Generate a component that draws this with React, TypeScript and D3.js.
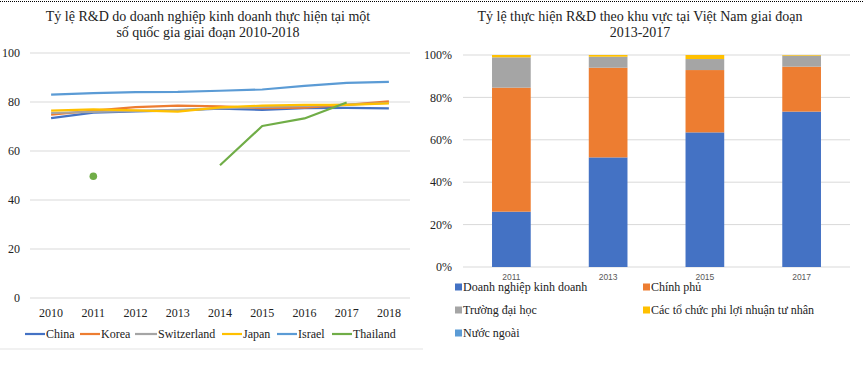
import React from "react";
import * as d3 from "d3";

const years = ["2010", "2011", "2012", "2013", "2014", "2015", "2016", "2017", "2018"];
const countries = ["China", "Korea", "Switzerland", "Japan", "Israel", "Thailand"];
const china = [73.4, 75.7, 76.2, 76.6, 77.3, 76.8, 77.5, 77.6, 77.4];
const korea = [74.8, 76.5, 77.9, 78.5, 78.2, 77.5, 77.7, 78.8, 80.3];
const switzerland = [75.5, 76.0, 76.4, 76.8, 77.4, 78.0, 78.4, 78.9, 79.6];
const japan = [76.5, 77.0, 76.6, 76.1, 77.8, 78.5, 78.8, 78.8, 79.4];
const israel = [83.0, 83.6, 84.0, 84.1, 84.6, 85.1, 86.6, 87.8, 88.2];
const thailand: (number | null)[] = [null, 49.7, null, null, 54.2, 70.2, 73.3, 79.8, null];
const leftTicks = [0, 20, 40, 60, 80, 100];

const vnYears = ["2011", "2013", "2015", "2017"];
const sectors = ["Doanh nghiệp kinh doanh", "Chính phủ", "Trường đại học", "Các tổ chức phi lợi nhuận tư nhân", "Nước ngoài"];
const business = [26.1, 51.7, 63.5, 73.3];
const government = [58.5, 42.3, 29.4, 21.2];
const university = [14.3, 5.2, 5.2, 5.2];
const nonprofit = [1.1, 0.8, 1.9, 0.3];
const foreign = [0, 0, 0, 0];
const rightTicks = [0, 0.2, 0.4, 0.6, 0.8, 1];

const lineColors = ["#4472C4", "#ED7D31", "#A5A5A5", "#FFC000", "#5B9BD5", "#70AD47"];
const barColors = ["#4472C4", "#ED7D31", "#A5A5A5", "#FFC000", "#5B9BD5"];
const serif = "Liberation Serif, DejaVu Serif, serif";
const sans = "Liberation Sans, Arial, sans-serif";

const S = (size: number, fam: string = serif) => ({ fontFamily: fam, fontSize: size + "px" });

export default function App() {
  const xL = d3.scaleBand<string>().domain(years).range([30, 410]);
  const yL = d3.scaleLinear().domain([0, 100]).range([298, 53]);
  const seriesL: (number | null)[][] = [china, korea, switzerland, japan, israel, thailand];
  const line = d3
    .line<number | null>()
    .defined((d) => d !== null)
    .x((_, i) => (xL(years[i]) as number) + xL.bandwidth() / 2)
    .y((d) => yL(d as number));

  const legendL = [
    { x: 25, w: 20 },
    { x: 80, w: 20 },
    { x: 135, w: 22 },
    { x: 222, w: 20 },
    { x: 277, w: 20 },
    { x: 332, w: 20 },
  ];

  const xR = d3.scaleBand<string>().domain(vnYears).range([463, 850]).paddingInner(0.6).paddingOuter(0.3);
  const yR = d3.scaleLinear().domain([0, 1]).range([267, 55]);
  const table = vnYears.map((y, i) => ({
    year: y,
    s0: business[i] / 100,
    s1: government[i] / 100,
    s2: university[i] / 100,
    s3: nonprofit[i] / 100,
    s4: foreign[i] / 100,
  }));
  const stack = d3.stack<any>().keys(["s0", "s1", "s2", "s3", "s4"]);
  const stacked = stack(table);
  const fmtPct = d3.format(".0%");

  const legendR = [
    { x: 455, y: 287 },
    { x: 643, y: 287 },
    { x: 455, y: 310 },
    { x: 643, y: 310 },
    { x: 455, y: 333 },
  ];

  return (
    <svg width={864} height={365} style={{ position: "absolute", left: 0, top: 0, background: "#fff" }}>
      <rect x={0} y={0} width={864} height={365} fill="#fff" />
      <line x1={0} x2={864} y1={1.5} y2={1.5} stroke="#000" strokeWidth={1} strokeDasharray="1,1" />
      <line x1={0} x2={423} y1={349} y2={349} stroke="#e3e3e3" strokeWidth={1} />

      {/* Left chart */}
      <text x={208} y={21} textAnchor="middle" style={S(14)} fill="#222">
        Tỷ lệ R&amp;D do doanh nghiệp kinh doanh thực hiện tại một
      </text>
      <text x={208} y={37} textAnchor="middle" style={S(14)} fill="#222">
        số quốc gia giai đoạn 2010-2018
      </text>
      {leftTicks.map((t) => (
        <g key={"lt" + t}>
          <line x1={30} x2={410} y1={yL(t)} y2={yL(t)} stroke="#d9d9d9" strokeWidth={1} />
          <text x={20} y={yL(t)} dy="0.35em" textAnchor="end" style={S(12)} fill="#222">
            {t}
          </text>
        </g>
      ))}
      {years.map((y) => (
        <text key={"xl" + y} x={(xL(y) as number) + xL.bandwidth() / 2} y={317} textAnchor="middle" style={S(12)} fill="#222">
          {y}
        </text>
      ))}
      {seriesL.map((s, i) => (
        <path key={"ln" + i} d={line(s) || ""} fill="none" stroke={lineColors[i]} strokeWidth={2.2} strokeLinejoin="round" />
      ))}
      {thailand.map((v, i) => {
        const prev = i > 0 ? thailand[i - 1] : null;
        const next = i < thailand.length - 1 ? thailand[i + 1] : null;
        if (v === null || prev !== null || next !== null) return null;
        return <circle key={"pt" + i} cx={(xL(years[i]) as number) + xL.bandwidth() / 2} cy={yL(v)} r={3.8} fill={lineColors[5]} />;
      })}
      {countries.map((c, i) => (
        <g key={"lg" + c}>
          <line x1={legendL[i].x} x2={legendL[i].x + legendL[i].w} y1={334} y2={334} stroke={lineColors[i]} strokeWidth={2.2} />
          <text x={legendL[i].x + legendL[i].w + 1} y={334} dy="0.35em" style={S(12)} fill="#222">
            {c}
          </text>
        </g>
      ))}

      {/* Right chart */}
      <text x={640} y={21} textAnchor="middle" style={S(14)} fill="#222">
        Tỷ lệ thực hiện R&amp;D theo khu vực tại Việt Nam giai đoạn
      </text>
      <text x={640} y={37} textAnchor="middle" style={S(14)} fill="#222">
        2013-2017
      </text>
      {rightTicks.map((t) => (
        <g key={"rt" + t}>
          <line x1={463} x2={850} y1={yR(t)} y2={yR(t)} stroke="#d9d9d9" strokeWidth={1} />
          <text x={452} y={yR(t)} dy="0.35em" textAnchor="end" style={S(12)} fill="#222">
            {fmtPct(t)}
          </text>
        </g>
      ))}
      {stacked.map((layer, li) => (
        <g key={"layer" + li} fill={barColors[li]}>
          {layer.map((d, j) => (
            <rect
              key={"b" + li + "-" + j}
              x={xR(vnYears[j]) as number}
              y={yR(d[1])}
              width={xR.bandwidth()}
              height={Math.max(0, yR(d[0]) - yR(d[1]))}
            />
          ))}
        </g>
      ))}
      {vnYears.map((y) => (
        <text key={"xr" + y} x={(xR(y) as number) + xR.bandwidth() / 2} y={280} textAnchor="middle" style={S(8.5, sans)} fill="#595959">
          {y}
        </text>
      ))}
      {sectors.map((s, i) => (
        <g key={"lr" + i}>
          <rect x={legendR[i].x} y={legendR[i].y - 3.5} width={7} height={7} fill={barColors[i]} />
          <text x={legendR[i].x + 8} y={legendR[i].y} dy="0.35em" style={S(12)} fill="#222">
            {s}
          </text>
        </g>
      ))}
    </svg>
  );
}
